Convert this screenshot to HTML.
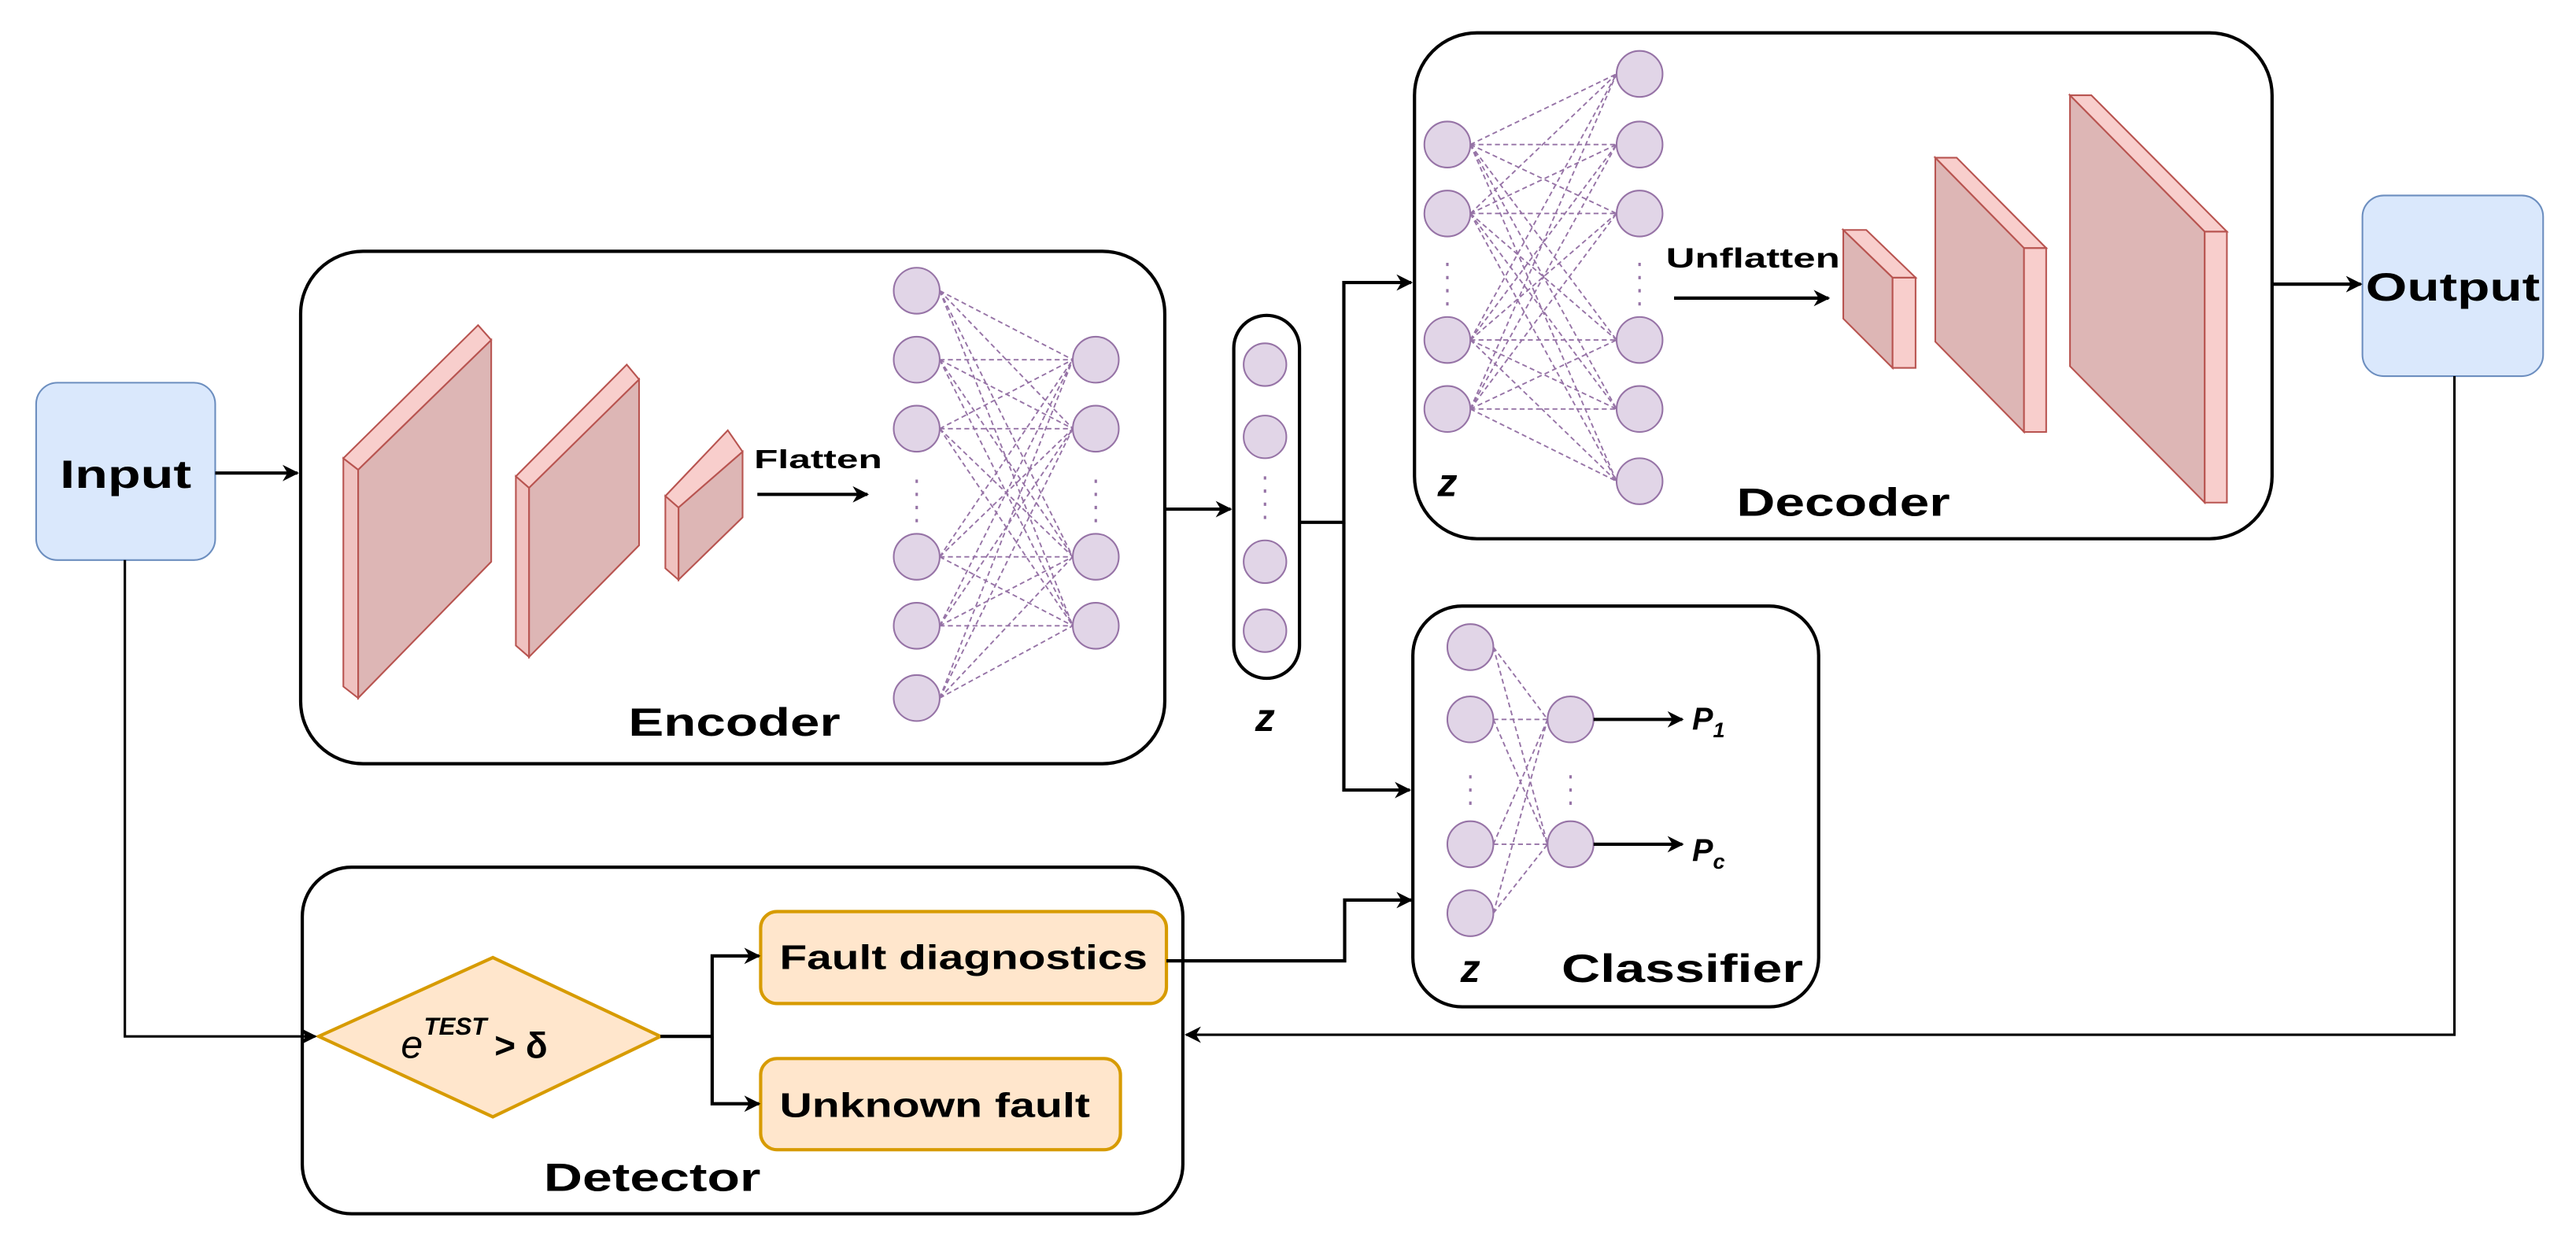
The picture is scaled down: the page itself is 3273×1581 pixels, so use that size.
<!DOCTYPE html>
<html><head><meta charset="utf-8"><style>html,body{margin:0;padding:0;background:#fff}svg{display:block}</style></head><body>
<svg width="3273" height="1581" viewBox="0 0 1568 757.4" xmlns="http://www.w3.org/2000/svg" font-family="'Liberation Sans', Arial, sans-serif" font-weight="bold">
<defs>
<marker id="a" viewBox="0 0 10 10" refX="9" refY="5" markerWidth="7" markerHeight="7" markerUnits="userSpaceOnUse" orient="auto"><path d="M0,0 L10,5 L0,10 L3,5 z" fill="#000"/></marker>
<marker id="ab" viewBox="0 0 10 10" refX="9" refY="5" markerWidth="10" markerHeight="10" markerUnits="userSpaceOnUse" orient="auto"><path d="M0,0 L10,5 L0,10 L3,5 z" fill="#000"/></marker>
</defs>
<rect x="0" y="0" width="1568" height="757.4" fill="#fff"/>

<!-- containers -->
<rect x="183" y="153" width="526" height="312" rx="38" fill="#fff" stroke="#000" stroke-width="2"/>
<rect x="861" y="20" width="522" height="308" rx="38" fill="#fff" stroke="#000" stroke-width="2"/>
<rect x="860" y="369" width="247" height="244" rx="30" fill="#fff" stroke="#000" stroke-width="2"/>
<rect x="184" y="528" width="536" height="211" rx="30" fill="#fff" stroke="#000" stroke-width="2"/>
<rect x="751" y="192" width="40" height="221" rx="20" fill="#fff" stroke="#000" stroke-width="2"/>

<!-- Input / Output -->
<rect x="22" y="233" width="109" height="108" rx="13" fill="#dae8fc" stroke="#6c8ebf" stroke-width="1"/>
<text x="76.5" y="297" font-size="24" text-anchor="middle" textLength="80" lengthAdjust="spacingAndGlyphs">Input</text>
<rect x="1438" y="119" width="110" height="110" rx="13" fill="#dae8fc" stroke="#6c8ebf" stroke-width="1"/>
<text x="1493" y="183" font-size="24" text-anchor="middle" textLength="106" lengthAdjust="spacingAndGlyphs">Output</text>

<!-- encoder conv blocks -->
<g stroke="#b85450" stroke-width="1">
<polygon points="218,286 299,207 299,342 218,425" fill="#ddb6b5"/>
<polygon points="209,279 218,286 218,425 209,418" fill="#f0c2c0"/>
<polygon points="209,279 291,198 299,207 218,286" fill="#f8cecc"/>
<polygon points="322,297 389,231 389,332 322,400" fill="#ddb6b5"/>
<polygon points="314,290 322,297 322,400 314,393" fill="#f0c2c0"/>
<polygon points="314,290 381.5,222 389,231 322,297" fill="#f8cecc"/>
<polygon points="413,309 452,275 452,315 413,353" fill="#ddb6b5"/>
<polygon points="405,302 413,309 413,353 405,346" fill="#f0c2c0"/>
<polygon points="405,302 443,262 452,275 413,309" fill="#f8cecc"/>
</g>
<!-- decoder conv blocks -->
<g stroke="#b85450" stroke-width="1">
<polygon points="1122,140 1152,169 1152,224 1122,194" fill="#ddb6b5"/>
<polygon points="1152,169 1166,169 1166,224 1152,224" fill="#f8cecc"/>
<polygon points="1122,140 1136,140 1166,169 1152,169" fill="#f8cecc"/>
<polygon points="1178,96 1232,151 1232,263 1178,208" fill="#ddb6b5"/>
<polygon points="1232,151 1245.5,151 1245.5,263 1232,263" fill="#f8cecc"/>
<polygon points="1178,96 1191,96 1245.5,151 1232,151" fill="#f8cecc"/>
<polygon points="1260,58 1342,141 1342,306 1260,223" fill="#ddb6b5"/>
<polygon points="1342,141 1355.5,141 1355.5,306 1342,306" fill="#f8cecc"/>
<polygon points="1260,58 1273,58 1355.5,141 1342,141" fill="#f8cecc"/>
</g>

<!-- NN dashed connections -->
<g stroke="#9673a6" stroke-width="0.9" stroke-dasharray="3 2" fill="none">
<!-- encoder -->
<path d="M572,177L653,219M572,177L653,261M572,177L653,339M572,177L653,381
M572,219L653,219M572,219L653,261M572,219L653,339M572,219L653,381
M572,261L653,219M572,261L653,261M572,261L653,339M572,261L653,381
M572,339L653,219M572,339L653,261M572,339L653,339M572,339L653,381
M572,381L653,219M572,381L653,261M572,381L653,339M572,381L653,381
M572,425L653,219M572,425L653,261M572,425L653,339M572,425L653,381"/>
<!-- decoder -->
<path d="M895,88L984,45M895,88L984,88M895,88L984,130M895,88L984,207M895,88L984,249M895,88L984,293
M895,130L984,45M895,130L984,88M895,130L984,130M895,130L984,207M895,130L984,249M895,130L984,293
M895,207L984,45M895,207L984,88M895,207L984,130M895,207L984,207M895,207L984,249M895,207L984,293
M895,249L984,45M895,249L984,88M895,249L984,130M895,249L984,207M895,249L984,249M895,249L984,293"/>
<!-- classifier -->
<path d="M909,394L942,438M909,394L942,514M909,438L942,438M909,438L942,514
M909,514L942,438M909,514L942,514M909,556L942,438M909,556L942,514"/>
</g>
<!-- vertical dots -->
<g stroke="#9673a6" stroke-width="1.5" stroke-dasharray="2 6" fill="none">
<path d="M558,292V320M667,292V320M770,290V322M881,160V188M998,160V188M895,472V492M956,472V492"/>
</g>

<!-- neurons -->
<g fill="#e1d5e7" stroke="#9673a6" stroke-width="1">
<circle cx="558" cy="177" r="14"/><circle cx="558" cy="219" r="14"/><circle cx="558" cy="261" r="14"/><circle cx="558" cy="339" r="14"/><circle cx="558" cy="381" r="14"/><circle cx="558" cy="425" r="14"/>
<circle cx="667" cy="219" r="14"/><circle cx="667" cy="261" r="14"/><circle cx="667" cy="339" r="14"/><circle cx="667" cy="381" r="14"/>
<circle cx="770" cy="222" r="13"/><circle cx="770" cy="266" r="13"/><circle cx="770" cy="342" r="13"/><circle cx="770" cy="384" r="13"/>
<circle cx="881" cy="88" r="14"/><circle cx="881" cy="130" r="14"/><circle cx="881" cy="207" r="14"/><circle cx="881" cy="249" r="14"/>
<circle cx="998" cy="45" r="14"/><circle cx="998" cy="88" r="14"/><circle cx="998" cy="130" r="14"/><circle cx="998" cy="207" r="14"/><circle cx="998" cy="249" r="14"/><circle cx="998" cy="293" r="14"/>
<circle cx="895" cy="394" r="14"/><circle cx="895" cy="438" r="14"/><circle cx="895" cy="514" r="14"/><circle cx="895" cy="556" r="14"/>
<circle cx="956" cy="438" r="14"/><circle cx="956" cy="514" r="14"/>
</g>

<!-- detector parts -->
<polygon points="194,631 300,583 402,631 300,680" fill="#ffe6cc" stroke="#d79b00" stroke-width="2"/>
<rect x="463" y="555" width="247" height="56" rx="10" fill="#ffe6cc" stroke="#d79b00" stroke-width="2"/>
<rect x="463" y="644.5" width="219" height="55.5" rx="10" fill="#ffe6cc" stroke="#d79b00" stroke-width="2"/>
<text x="586.5" y="590" font-size="21" text-anchor="middle" textLength="224" lengthAdjust="spacingAndGlyphs">Fault diagnostics</text>
<text x="569" y="680" font-size="21" text-anchor="middle" textLength="189" lengthAdjust="spacingAndGlyphs">Unknown fault</text>
<text x="244" y="644" font-size="24" font-style="italic" font-weight="normal">e</text>
<text x="258" y="630" font-size="15" font-style="italic">TEST</text>
<text x="301" y="644" font-size="22" font-weight="bold">&gt; δ</text>

<!-- labels -->
<text x="447" y="448" font-size="24" text-anchor="middle" textLength="129" lengthAdjust="spacingAndGlyphs">Encoder</text>
<text x="1122" y="314" font-size="24" text-anchor="middle" textLength="130" lengthAdjust="spacingAndGlyphs">Decoder</text>
<text x="1024" y="598" font-size="24" text-anchor="middle" textLength="147" lengthAdjust="spacingAndGlyphs">Classifier</text>
<text x="397" y="725" font-size="24" text-anchor="middle" textLength="132" lengthAdjust="spacingAndGlyphs">Detector</text>
<text x="498" y="285" font-size="16" text-anchor="middle" textLength="78" lengthAdjust="spacingAndGlyphs">Flatten</text>
<text x="1067" y="163" font-size="17" text-anchor="middle" textLength="106" lengthAdjust="spacingAndGlyphs">Unflatten</text>
<text x="770" y="445" font-size="24" font-style="italic" text-anchor="middle">z</text>
<text x="881" y="302" font-size="24" font-style="italic" text-anchor="middle">z</text>
<text x="895" y="598" font-size="24" font-style="italic" text-anchor="middle">z</text>
<text x="1030" y="444" font-size="19" font-style="italic">P<tspan font-size="13" dy="5">1</tspan></text>
<text x="1030" y="524" font-size="19" font-style="italic">P<tspan font-size="13" dy="5">c</tspan></text>

<!-- connectors -->
<g stroke="#000" stroke-width="2" fill="none">
<path d="M131,288H181" marker-end="url(#ab)"/>
<path d="M461,301H528" marker-end="url(#ab)"/>
<path d="M709,310H749" marker-end="url(#ab)"/>
<path d="M791,318H818V172H859" marker-end="url(#ab)"/>
<path d="M818,318V481H858" marker-end="url(#ab)"/>
<path d="M1019,181.5H1113" marker-end="url(#ab)"/>
<path d="M1383,173H1437" marker-end="url(#ab)"/>
<path d="M970,438H1024" marker-end="url(#ab)"/>
<path d="M970,514H1024" marker-end="url(#ab)"/>
<path d="M710,585H818.5V548H859" marker-end="url(#ab)"/>
<path d="M402,631H433.5V582H462" marker-end="url(#ab)"/>
<path d="M433.5,631V672H462" marker-end="url(#ab)"/>
</g>
<g stroke="#000" stroke-width="1.5" fill="none">
<path d="M76,341V631H192" marker-end="url(#ab)"/>
<path d="M1494,229V630H722" marker-end="url(#ab)"/>
</g>
</svg>
</body></html>
